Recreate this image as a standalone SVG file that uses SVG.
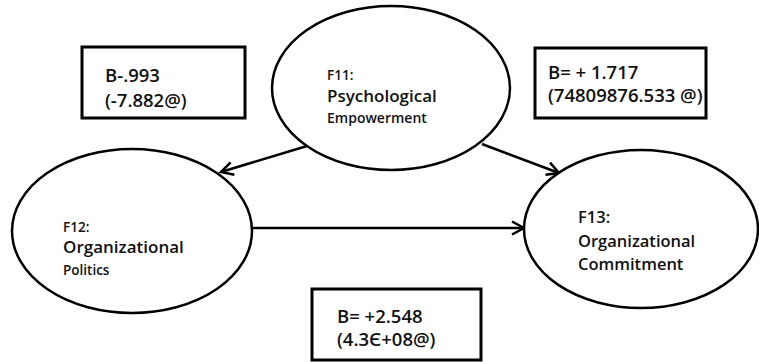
<svg xmlns="http://www.w3.org/2000/svg" width="759" height="362" viewBox="0 0 759 362">
<defs>
<style>
.node{fill:#fff;stroke:#000;stroke-width:2.5}
.box{fill:#fff;stroke:#000;stroke-width:3}
.conn{stroke:#000;stroke-width:2.5;fill:none}
text{font-family:"Open Sans","Liberation Sans",sans-serif;font-weight:600;fill:#111}
.bt{font-size:18.5px}
</style>
<marker id="arr" markerUnits="userSpaceOnUse" markerWidth="16" markerHeight="16" viewBox="0 0 16 16" refX="13" refY="8" orient="auto">
<path d="M1,1.5 L13,8 L1,14.5" fill="none" stroke="#000" stroke-width="2.5"/>
</marker>
</defs>
<rect width="759" height="362" fill="#fff"/>
<g id="connectors">
<line class="conn" x1="307" y1="146" x2="221" y2="172" marker-end="url(#arr)"/>
<line class="conn" x1="482" y1="144" x2="559" y2="173" marker-end="url(#arr)"/>
<line class="conn" x1="253" y1="228" x2="524" y2="228" marker-end="url(#arr)"/>
</g>
<g id="F11">
<ellipse class="node" cx="391" cy="88" rx="119" ry="82"/>
<text x="327" y="80" font-size="13.5">F11:</text>
<text x="327" y="102" font-size="17">Psychological</text>
<text x="327" y="123" font-size="14">Empowerment</text>
</g>
<g id="F12">
<ellipse class="node" cx="132" cy="231" rx="120" ry="82"/>
<text x="63" y="232" font-size="13.5">F12:</text>
<text x="63" y="253" font-size="17">Organizational</text>
<text x="63" y="275" font-size="13.5">Politics</text>
</g>
<g id="F13">
<ellipse class="node" cx="641" cy="229" rx="117" ry="79"/>
<text x="578" y="223" font-size="16.5">F13:</text>
<text x="578" y="247" font-size="16.5">Organizational</text>
<text x="578" y="270" font-size="16.5">Commitment</text>
</g>
<g id="box1">
<rect class="box" x="82" y="47" width="163" height="71"/>
<text class="bt" x="105" y="82">B-.993</text>
<text class="bt" x="105" y="107">(-7.882@)</text>
</g>
<g id="box2">
<rect class="box" x="535" y="48" width="171" height="70"/>
<text class="bt" x="548" y="79">B= + 1.717</text>
<text class="bt" x="548" y="102">(74809876.533 @)</text>
</g>
<g id="box3">
<rect class="box" x="312" y="289" width="169" height="71"/>
<text class="bt" x="337" y="323">B= +2.548</text>
<text class="bt" x="337" y="346">(4.3Є+08@)</text>
</g>
</svg>
